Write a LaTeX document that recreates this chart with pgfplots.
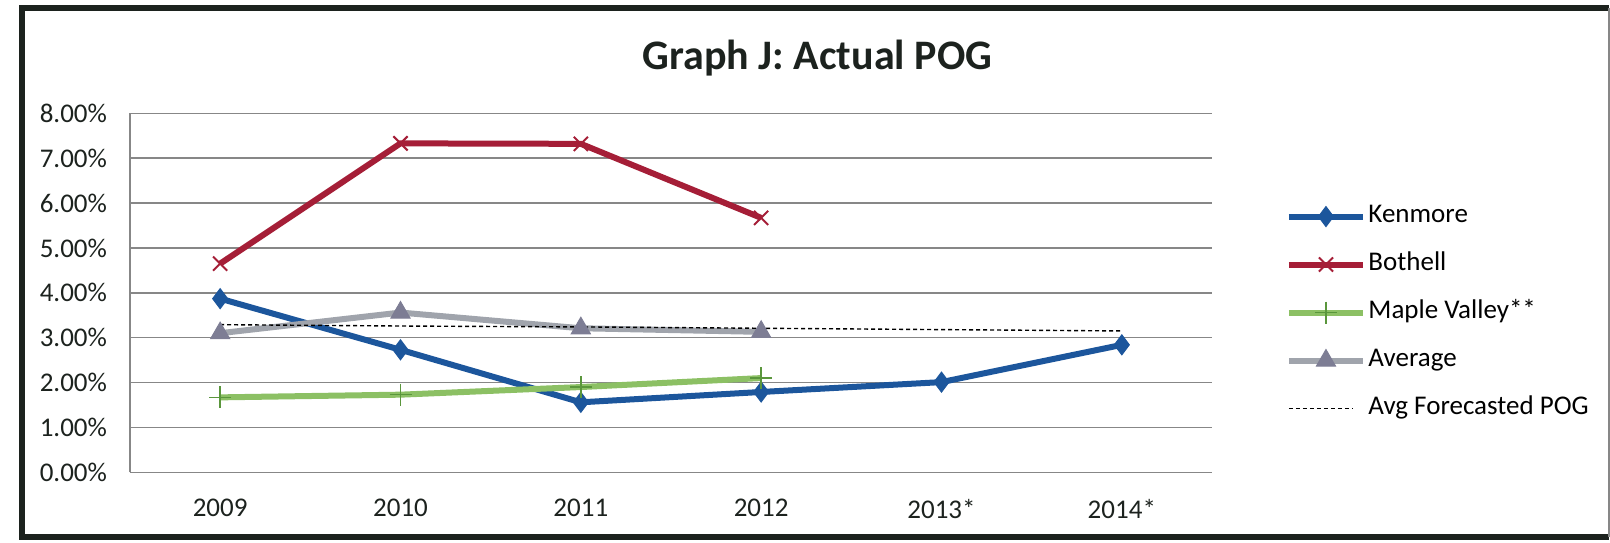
\documentclass[border=0pt]{standalone}
\usepackage{pgfplots}
\pgfplotsset{compat=1.18}
\usepackage{fontspec}
\setmainfont{Carlito}

\definecolor{kenblue}{RGB}{28,86,156}
\definecolor{bothred}{RGB}{165,30,55}
\definecolor{maplegreen}{RGB}{140,192,100}
\definecolor{maplemark}{RGB}{90,150,60}
\definecolor{avggray}{RGB}{160,164,172}
\definecolor{avgmark}{RGB}{125,125,148}
\definecolor{gridcol}{RGB}{135,135,135}
\definecolor{framecol}{RGB}{28,34,30}

\pgfplotsset{
  shortdash legend/.style={legend image code/.code={\draw[##1] (0pt,0pt) -- (32pt,0pt);}},
}

\begin{document}
\begin{tikzpicture}
\useasboundingbox (0,0) rectangle (805pt,271pt);
% outer frame of the chart
\draw[line width=2.6pt, framecol] (804.5pt,267pt) -- (11pt,267pt) -- (11pt,2.5pt) -- (804.5pt,2.5pt);
\draw[line width=0.6pt, gridcol] (804.5pt,267pt) -- (804.5pt,2.5pt);

\node[anchor=base, font=\bfseries\fontsize{21}{25}\selectfont, text=framecol] at (408.75pt,236pt) {Graph J: Actual POG};

\begin{axis}[
  at={(65pt,34.85pt)}, anchor=south west,
  width=541pt, height=179.5pt, scale only axis,
  xmin=-0.5, xmax=5.5, ymin=0, ymax=8,
  xtick={0,...,5},
  xticklabels={2009,2010,2011,2012,2013*,2014*},
  ytick={0,...,8},
  yticklabel={\pgfmathprintnumber[fixed,fixed zerofill,precision=2]{\tick}\%},
  /pgf/number format/assume math mode=true,
  axis x line*=bottom, axis y line*=left,
  axis line style={-, gridcol, line width=0.8pt},
  tick style={draw=none},
  ymajorgrids, grid style={gridcol, line width=0.8pt},
  tick label style={font=\fontsize{13.5}{16}\selectfont, text=framecol},
  yticklabel style={xshift=-8pt},
  xticklabel style={yshift=-10pt},
  legend style={at={(1.068,0.445)}, anchor=west, draw=none, fill=none,
    inner sep=0pt, row sep=9.5pt,
    font=\fontsize{13.5}{16}\selectfont,
    nodes={inner sep=1.25pt, text height=9pt, text depth=3pt}},
  legend cell align=left,
  legend image code/.code={\draw[mark repeat=2,mark phase=2,#1] plot coordinates {(0pt,0pt) (18.5pt,0pt) (37pt,0pt)};},
]
\addplot[kenblue, line width=3pt, mark=diamond*, mark size=5pt,
  mark options={line width=0.5pt}]
  coordinates {(0,3.87) (1,2.73) (2,1.56) (3,1.79) (4,2.01) (5,2.84)};
\addlegendentry{Kenmore}

\addplot[bothred, line width=3pt, mark=x, mark size=5pt,
  mark options={line width=1pt}]
  coordinates {(0,4.65) (1,7.33) (2,7.32) (3,5.67)};
\addlegendentry{Bothell}

\addplot[maplegreen, line width=3pt, mark=+, mark size=5.5pt,
  mark options={line width=0.8pt, maplemark}]
  coordinates {(0,1.67) (1,1.73) (2,1.90) (3,2.10)};
\addlegendentry{Maple Valley**}

\addplot[avggray, line width=3pt, mark=triangle*, mark size=5.5pt,
  mark options={line width=0.5pt, fill=avgmark, draw=avgmark}]
  coordinates {(0,3.10) (1,3.56) (2,3.21) (3,3.13)};
\addlegendentry{Average}

\addplot[black, line width=0.7pt, dash pattern=on 2pt off 1.5pt, mark=none, shortdash legend]
  coordinates {(0,3.29) (1,3.26) (2,3.24) (3,3.21) (4,3.18) (5,3.15)};
\addlegendentry{Avg Forecasted POG}
\end{axis}
\end{tikzpicture}
\end{document}
